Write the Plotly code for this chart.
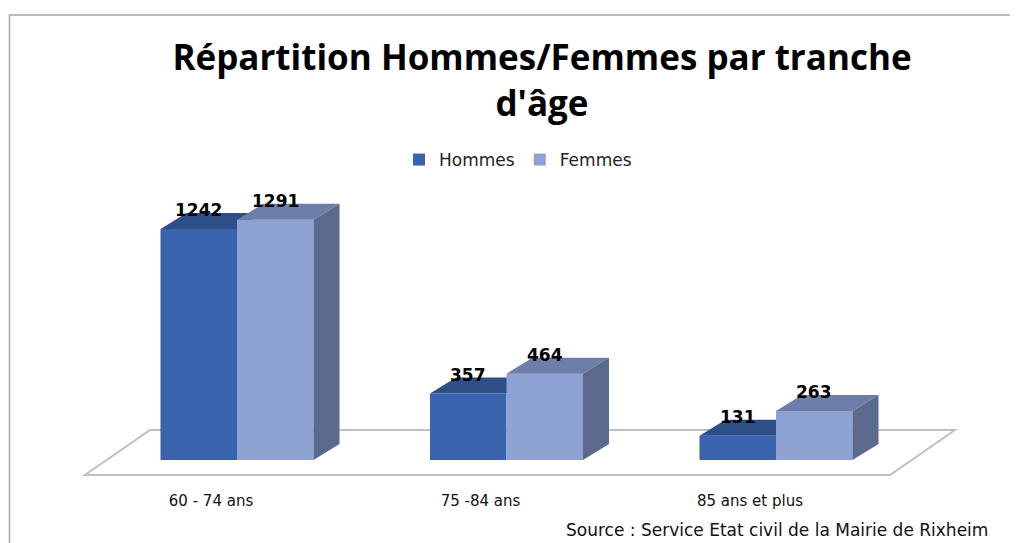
import plotly.graph_objects as go

# ---- data ----
categories = ["60 - 74 ans", "75 -84 ans", "85 ans et plus"]
hommes = [1242, 357, 131]
femmes = [1291, 464, 263]
series_names = ["Hommes", "Femmes"]
title_text = "Répartition Hommes/Femmes par tranche<br>d'âge"
source_text = "Source : Service Etat civil de la Mairie de Rixheim"

# ---- style / geometry (screen pixels, page has an 8px body margin) ----
OFF = 8
W, H = 1018 - OFF, 543 - OFF


def sx(p):  # screen x -> figure x
    return p - OFF


def sy(p):  # screen y -> figure y
    return p - OFF


ML = sx(80)
MT = sy(190)
PW = 880
PH = 300
MR = W - ML - PW
MB = H - MT - PH
PX_PER_CAT = 269.5
PX_PER_UNIT = 0.186
XMIN = -(237 - 80) / PX_PER_CAT
XMAX = XMIN + PW / PX_PER_CAT
YMIN = -(490 - 460) / PX_PER_UNIT
YMAX = YMIN + PH / PX_PER_UNIT
BAR_W = 76.5 / PX_PER_CAT
DX = 26 / PX_PER_CAT
DY = 16 / PX_PER_UNIT

C_H_FRONT, C_H_TOP = "#3A63AD", "#2E4E88"
C_F_FRONT, C_F_TOP, C_F_SIDE = "#8FA2D4", "#6D7EA8", "#5B6A8C"

xs = list(range(len(categories)))


def top_face(x0, v):
    return ([x0, x0 + BAR_W, x0 + BAR_W + DX, x0 + DX, x0],
            [v, v, v + DY, v + DY, v])


def side_face(x0, v):
    x1 = x0 + BAR_W
    return ([x1, x1 + DX, x1 + DX, x1, x1],
            [0, DY, v + DY, v, 0])


fig = go.Figure()

# Hommes (rear layer)
fig.add_trace(go.Bar(x=xs, y=hommes, width=BAR_W, offset=-BAR_W,
                     marker=dict(color=C_H_FRONT, line=dict(width=0)),
                     name=series_names[0], hoverinfo="skip"))
for i, v in enumerate(hommes):
    tx, ty = top_face(i - BAR_W, v)
    fig.add_trace(go.Scatter(x=tx, y=ty, fill="toself", fillcolor=C_H_TOP,
                             mode="lines", line=dict(width=0),
                             showlegend=False, hoverinfo="skip"))

# Femmes (front layer, overlaid axes)
fig.add_trace(go.Bar(x=xs, y=femmes, width=BAR_W, offset=0,
                     marker=dict(color=C_F_FRONT, line=dict(width=0)),
                     name=series_names[1], hoverinfo="skip",
                     xaxis="x2", yaxis="y2"))
for i, v in enumerate(femmes):
    tx, ty = top_face(i, v)
    fig.add_trace(go.Scatter(x=tx, y=ty, fill="toself", fillcolor=C_F_TOP,
                             mode="lines", line=dict(width=0),
                             showlegend=False, hoverinfo="skip",
                             xaxis="x2", yaxis="y2"))
    fx, fy = side_face(i, v)
    fig.add_trace(go.Scatter(x=fx, y=fy, fill="toself", fillcolor=C_F_SIDE,
                             mode="lines", line=dict(width=0),
                             showlegend=False, hoverinfo="skip",
                             xaxis="x2", yaxis="y2"))

# value labels
LABEL_FONT = dict(family="DejaVu Sans", size=17, color="#000")
for i, v in enumerate(hommes):
    fig.add_annotation(x=i - BAR_W / 2, y=v + DY, text=f"<b>{v}</b>",
                       showarrow=False, yanchor="middle", yshift=3,
                       font=LABEL_FONT)
for i, v in enumerate(femmes):
    fig.add_annotation(x=i + BAR_W / 2, y=v + DY, text=f"<b>{v}</b>",
                       showarrow=False, yanchor="middle", yshift=3,
                       font=LABEL_FONT)

# floor
n = len(categories)
f_front_y = -15 / PX_PER_UNIT
f_back_y = 30 / PX_PER_UNIT
fl_l = -(237 - 85) / PX_PER_CAT
fl_r = (n - 1) + (890 - 776) / PX_PER_CAT
shift = 65 / PX_PER_CAT
fig.add_shape(type="path", xref="x", yref="y", layer="below",
              path=(f"M {fl_l},{f_front_y} L {fl_r},{f_front_y} "
                    f"L {fl_r + shift},{f_back_y} L {fl_l + shift},{f_back_y} Z"),
              line=dict(color="#BFBFBF", width=2), fillcolor="white")


# chart border (outer frame)
def px2paper_x(p):
    return (sx(p) - ML) / PW


def px2paper_y(p):
    return (MT + PH - sy(p)) / PH


fig.add_shape(type="rect", xref="paper", yref="paper", layer="below",
              x0=px2paper_x(9.5), x1=px2paper_x(1200),
              y0=px2paper_y(700), y1=px2paper_y(15),
              line=dict(color="#A6A6A6", width=1.5))

# source text
fig.add_annotation(xref="paper", yref="paper", x=px2paper_x(990),
                   y=px2paper_y(530), xanchor="right", yanchor="middle",
                   text=source_text, showarrow=False,
                   font=dict(family="DejaVu Sans", size=17, color="#111"))

fig.update_layout(
    width=W, height=H,
    margin=dict(l=ML, r=MR, t=MT, b=MB),
    paper_bgcolor="white", plot_bgcolor="rgba(0,0,0,0)",
    barmode="overlay",
    title=dict(text=title_text, x=sx(542) / W, xanchor="center",
               y=1 - sy(70) / H, yanchor="top",
               font=dict(family="Open Sans", size=35, color="#000", weight="bold")),
    legend=dict(orientation="h", x=px2paper_x(518), xanchor="center",
                y=px2paper_y(160), yanchor="middle",
                font=dict(family="DejaVu Sans", size=17, color="#222"),
                itemclick=False, traceorder="normal"),
    xaxis=dict(range=[XMIN, XMAX], showgrid=False, zeroline=False,
               showline=False, ticks="",
               tickvals=[x - DX for x in xs], ticktext=categories,
               tickfont=dict(family="DejaVu Sans", size=15, color="#111")),
    yaxis=dict(range=[YMIN, YMAX], visible=False),
    xaxis2=dict(range=[XMIN, XMAX], overlaying="x", visible=False),
    yaxis2=dict(range=[YMIN, YMAX], overlaying="y", visible=False),
    showlegend=True,
)

fig.write_html("out.html", config={"displayModeBar": False})
